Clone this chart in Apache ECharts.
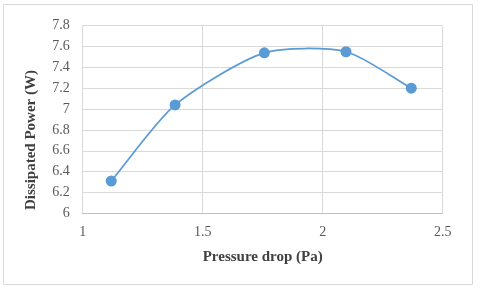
<!DOCTYPE html>
<html><head><meta charset="utf-8">
<script src="https://cdn.jsdelivr.net/npm/echarts@6/dist/echarts.min.js"></script>
<style>html,body{margin:0;padding:0;background:#fff}#c{width:480px;height:288px}</style>
</head><body><div id="c"></div>
<script>
const pressureDrop = [1.119, 1.385, 1.757, 2.097, 2.369];
const dissipatedPower = [6.31, 7.04, 7.54, 7.55, 7.20];
const xTicks = [1, 1.5, 2, 2.5];
const yTicks = [6, 6.2, 6.4, 6.6, 6.8, 7, 7.2, 7.4, 7.6, 7.8];
const xTitle = 'Pressure drop (Pa)';
const yTitle = 'Dissipated Power (W)';

const chart = echarts.init(document.getElementById('c'), null, {renderer:'canvas'});
const serif = '"Liberation Serif","DejaVu Serif",serif';
const blue = '#5b9bd5';
const S = 0.24; // Excel-like smoothing strength

function renderCurve(params, api){
  if (params.dataIndex !== 0) return null;
  const P = pressureDrop.map((x,i)=>api.coord([x, dissipatedPower[i]]));
  const n = P.length;
  const d = (a,b)=>Math.hypot(b[0]-a[0], b[1]-a[1]);
  const cpOut = [], cpIn = [];
  for (let i=0;i<n;i++){
    const p0 = P[Math.max(0,i-1)], p1 = P[i], p2 = P[Math.min(n-1,i+1)];
    const d01 = d(p0,p1), d12 = d(p1,p2), sum = d01+d12 || 1;
    const vx = p2[0]-p0[0], vy = p2[1]-p0[1];
    const fa = S*d01/sum, fb = S*d12/sum;
    cpIn[i] = [p1[0]-fa*vx, p1[1]-fa*vy];
    cpOut[i] = [p1[0]+fb*vx, p1[1]+fb*vy];
  }
  const children = [];
  for (let i=0;i<n-1;i++){
    children.push({type:'bezierCurve',
      shape:{x1:P[i][0],y1:P[i][1],x2:P[i+1][0],y2:P[i+1][1],
        cpx1:cpOut[i][0],cpy1:cpOut[i][1],cpx2:cpIn[i+1][0],cpy2:cpIn[i+1][1]},
      style:{stroke:blue,lineWidth:1.75,fill:null}});
  }
  return {type:'group',children};
}

chart.setOption({
  animation:false,
  backgroundColor:'#fff',
  graphic:[
    {type:'rect',shape:{x:3.5,y:4.5,width:469,height:280},style:{fill:'none',stroke:'#d9d9d9',lineWidth:1},silent:true},
    {type:'text',x:31,y:140,rotation:Math.PI/2,
      style:{text:yTitle,font:'bold 15px '+serif,fill:'#404040',align:'center',verticalAlign:'middle'},silent:true}
  ],
  grid:{left:82.7,right:37.3,top:25.7,bottom:74.7},
  xAxis:{type:'value',min:xTicks[0],max:xTicks[xTicks.length-1],interval:0.5,
    name:xTitle,nameLocation:'middle',nameGap:36,
    nameTextStyle:{fontFamily:serif,fontSize:15,fontWeight:'bold',color:'#404040'},
    axisLine:{show:true,lineStyle:{color:'#bfbfbf',width:1}},
    axisTick:{show:false},
    axisLabel:{fontFamily:serif,fontSize:14,color:'#595959',margin:12},
    splitLine:{show:true,lineStyle:{color:'#d9d9d9',width:1}}},
  yAxis:{type:'value',min:yTicks[0],max:yTicks[yTicks.length-1],interval:0.2,
    axisLine:{show:true,lineStyle:{color:'#d9d9d9',width:1}},
    axisTick:{show:false},
    axisLabel:{fontFamily:serif,fontSize:14,color:'#595959',margin:13,
      formatter:v=>String(Math.round(v*10)/10)},
    splitLine:{show:true,lineStyle:{color:'#d9d9d9',width:1}}},
  series:[
    {type:'custom',renderItem:renderCurve,clip:false,z:2,
      data:pressureDrop.map((x,i)=>[x,dissipatedPower[i]])},
    {type:'scatter',z:3,data:pressureDrop.map((x,i)=>[x,dissipatedPower[i]]),
      symbol:'circle',symbolSize:11,itemStyle:{color:blue,opacity:1}}
  ]
});
</script></body></html>
